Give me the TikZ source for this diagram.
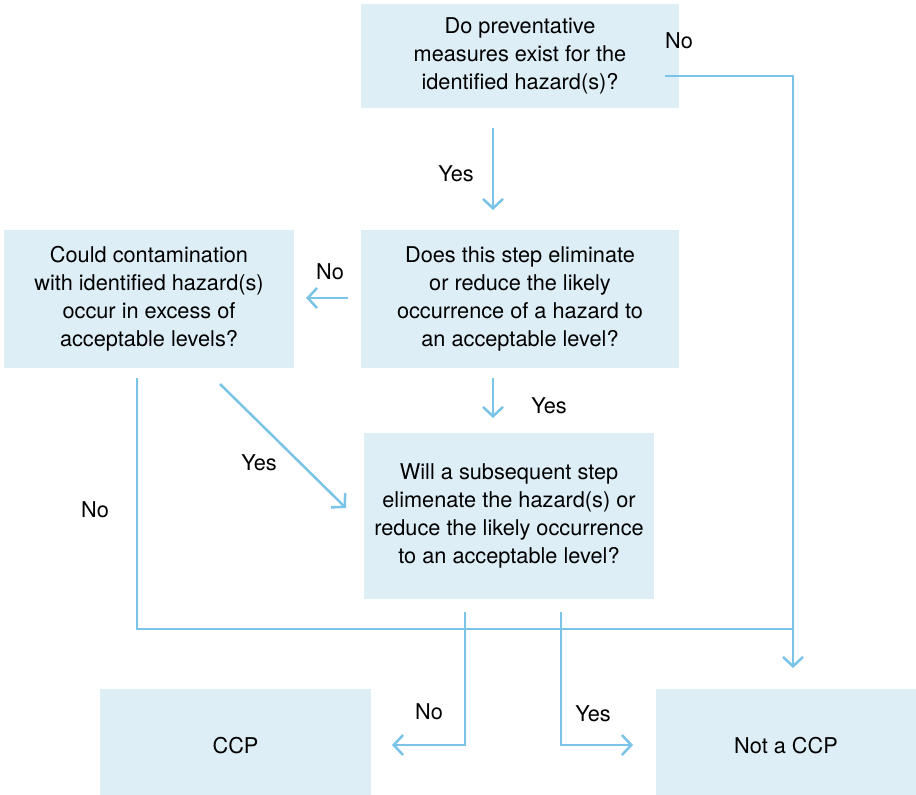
\documentclass[tikz,border=0pt]{standalone}
\usepackage{fontspec}
\setmainfont{TeX Gyre Heros}
\usetikzlibrary{arrows.meta}
\definecolor{boxfill}{HTML}{DDEEF7}
\definecolor{linecol}{HTML}{7CC3E8}
\tikzset{
  box/.style={fill=boxfill, draw=none, inner sep=0pt, align=center, font=\fontsize{16.3}{21}\selectfont},
  conn/.style={draw=linecol, line width=1.9pt, line join=miter},
  arr/.style={conn, -{Straight Barb[length=7pt,width=15pt,line width=1.9pt]}},
  lbl/.style={font=\fontsize{16.3}{21}\selectfont, inner sep=0pt}
}
\begin{document}
\begin{tikzpicture}[x=0.75pt,y=-0.75pt]
\useasboundingbox (0,0) rectangle (916,794);
\node[box, minimum width=238.5pt, minimum height=78pt] (q1) at (520,56) {Do preventative\\measures exist for the\\identified hazard(s)?};
\node[box, minimum width=238.5pt, minimum height=103.5pt] (q2) at (520,299) {Does this step eliminate\\or reduce the likely\\occurrence of a hazard to\\an acceptable level?};
\node[box, minimum width=217.5pt, minimum height=103.5pt] (q3) at (149,299) {Could contamination\\with identified hazard(s)\\occur in excess of\\acceptable levels?};
\node[box, minimum width=217.5pt, minimum height=124.5pt] (q4) at (509,516) {Will a subsequent step\\elimenate the hazard(s) or\\reduce the likely occurrence\\to an acceptable level?};
\node[box, minimum width=203.25pt, minimum height=85.5pt] (ccp) at (235.5,746) {CCP};
\node[box, minimum width=195pt, minimum height=85.5pt] (nccp) at (786,746) {Not a CCP};

% connector end points
\coordinate (a1s) at (493,128);
\coordinate (a1e) at (493,210);
\coordinate (nos) at (665,76);
\coordinate (noc) at (793,76);
\coordinate (noe) at (793,668);
\coordinate (a2s) at (348,298);
\coordinate (a2e) at (306,298);
\coordinate (a3s) at (493,378);
\coordinate (a3e) at (493,418);
\coordinate (a4s) at (220,384);
\coordinate (a4e) at (346,508);
\coordinate (a5s) at (137,378);
\coordinate (a5c) at (137,629);
\coordinate (a6s) at (465,612);
\coordinate (a6c) at (465,745);
\coordinate (a6e) at (392,745);
\coordinate (a7s) at (561,612);
\coordinate (a7c) at (561,745);
\coordinate (a7e) at (633,745);

\draw[arr] (a1s) -- (a1e);
\draw[arr] (nos) -- (noc) -- (noe);
\draw[arr] (a2s) -- (a2e);
\draw[arr] (a3s) -- (a3e);
\draw[arr] (a4s) -- (a4e);
\draw[conn] (a5s) -- (a5c) -- (a5c -| noc);
\draw[arr] (a6s) -- (a6c) -- (a6e);
\draw[arr] (a7s) -- (a7c) -- (a7e);

\node[lbl] (l1) at (456,174) {Yes};
\node[lbl] (l2) at (679,41) {No};
\node[lbl] (l3) at (330,272) {No};
\node[lbl] (l4) at (549,406) {Yes};
\node[lbl] (l5) at (259,463) {Yes};
\node[lbl] (l6) at (95,510) {No};
\node[lbl] (l7) at (429,712) {No};
\node[lbl] (l8) at (593,714) {Yes};
\end{tikzpicture}
\end{document}
